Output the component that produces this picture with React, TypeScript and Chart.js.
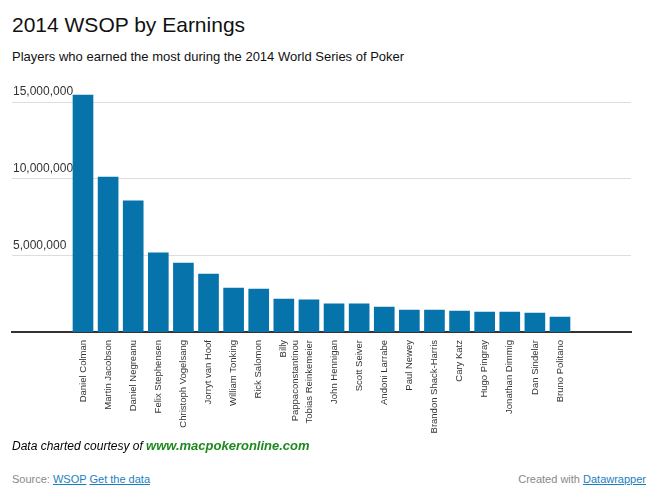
import React, { useEffect, useRef } from 'react'
import { Chart, registerables } from 'chart.js'

Chart.register(...registerables)

const players: (string | string[])[] = [
  'Daniel Colman', 'Martin Jacobson', 'Daniel Negreanu', 'Felix Stephensen', 'Christoph Vogelsang',
  'Jorryt van Hoof', 'William Tonking', 'Rick Salomon', ['Billy', 'Pappaconstantinou'], 'Tobias Reinkemeier',
  'John Hennigan', 'Scott Seiver', 'Andoni Larrabe', 'Paul Newey', 'Brandon Shack-Harris',
  'Cary Katz', 'Hugo Pingray', 'Jonathan Dimmig', 'Dan Sindelar', 'Bruno Politano',
]

const earnings = [
  15450000, 10100000, 8550000, 5170000, 4500000,
  3780000, 2870000, 2800000, 2150000, 2090000,
  1830000, 1830000, 1630000, 1430000, 1430000,
  1370000, 1300000, 1300000, 1240000, 980000,
]

const yTicks = [5000000, 10000000, 15000000]

const FONT = "'Liberation Sans', Arial, Helvetica, sans-serif"

function EarningsChart() {
  const canvasRef = useRef<HTMLCanvasElement>(null)

  useEffect(() => {
    if (!canvasRef.current) return
    const chart = new Chart(canvasRef.current, {
      type: 'bar',
      data: {
        datasets: [{
          data: earnings.map((v, i) => ({ x: i, y: v })),
          backgroundColor: '#0673ab',
          barThickness: 20,
        }],
      },
      options: {
        animation: false,
        responsive: true,
        maintainAspectRatio: false,
        layout: { padding: { top: 16.67, left: 12, right: 30, bottom: 0 } },
        plugins: { legend: { display: false }, tooltip: { enabled: false } },
        scales: {
          x: {
            type: 'linear',
            offset: false,
            min: -2.828,
            max: 21.829,
            afterBuildTicks: (axis: any) => { axis.ticks = players.map((_, i) => ({ value: i })) },
            afterFit: (axis: any) => { axis.height = 108; axis.paddingLeft = 0; axis.paddingRight = 0 },
            grid: { display: false, offset: false },
            border: { display: true, color: '#333', width: 2 },
            ticks: {
              autoSkip: false,
              minRotation: 90,
              maxRotation: 90,
              padding: 0,
              color: '#333',
              font: { family: FONT, size: 9.5 },
              callback: (_v: any, i: number) => players[i],
            },
          },
          y: {
            min: 0,
            max: 16000000,
            afterBuildTicks: (axis: any) => { axis.ticks = yTicks.map(v => ({ value: v })) },
            afterFit: (axis: any) => { axis.width = 0 },
            grid: { color: '#dddddd', drawTicks: false },
            border: { display: false },
            ticks: {
              mirror: true,
              padding: 1,
              labelOffset: -10,
              color: '#333',
              font: { family: FONT, size: 12 },
              callback: (v: any) => Number(v).toLocaleString('en-US'),
            },
          },
        },
      },
    } as any)
    return () => chart.destroy()
  }, [])

  return <canvas ref={canvasRef} />
}

export default function App() {
  const link: React.CSSProperties = { color: '#1a7fc1', textDecoration: 'underline' }
  return (
    <div style={{ position: 'absolute', left: 0, top: 0, width: 661, height: 501, background: '#fff', fontFamily: FONT, overflow: 'hidden' }}>
      <div style={{ position: 'absolute', left: 12, top: 14, fontSize: 21, lineHeight: '21px', color: '#111' }}>
        2014 WSOP by Earnings
      </div>
      <div style={{ position: 'absolute', left: 12, top: 50, fontSize: 13, lineHeight: '13px', color: '#111' }}>
        Players who earned the most during the 2014 World Series of Poker
      </div>
      <div style={{ position: 'absolute', left: 0, top: 70, width: 661, height: 370 }}>
        <EarningsChart />
      </div>
      <div style={{ position: 'absolute', left: 12, top: 439, fontSize: 12, lineHeight: '13px', color: '#000', fontStyle: 'italic', whiteSpace: 'nowrap' }}>
        Data charted courtesy of <b style={{ color: '#1d8a1d', fontSize: 13 }}>www.macpokeronline.com</b>
      </div>
      <div style={{ position: 'absolute', left: 12, top: 474, fontSize: 11, lineHeight: '11px', color: '#888', whiteSpace: 'nowrap' }}>
        Source: <span style={link}>WSOP</span> <span style={link}>Get the data</span>
      </div>
      <div style={{ position: 'absolute', right: 15, top: 474, fontSize: 11, lineHeight: '11px', color: '#888', whiteSpace: 'nowrap' }}>
        Created with <span style={link}>Datawrapper</span>
      </div>
    </div>
  )
}
